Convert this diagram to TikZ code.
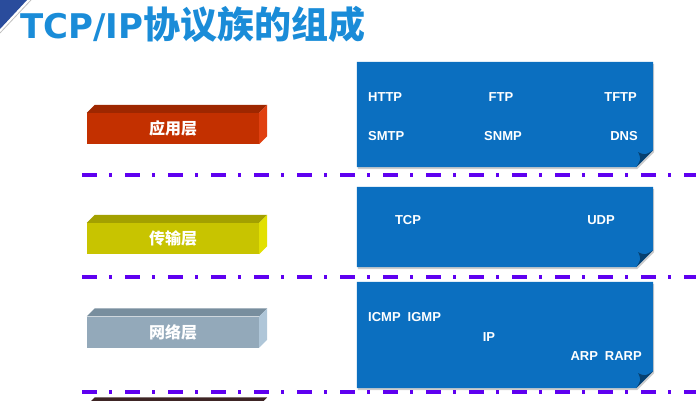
\documentclass[tikz,border=0pt]{standalone}
\usepackage{fontspec}
\setmainfont{Liberation Sans}
\newfontfamily\cjk{Noto Sans CJK SC}
\newfontfamily\titlelatin{DejaVu Sans}
\usetikzlibrary{positioning}

\definecolor{titleblue}{HTML}{1A8CD8}
\definecolor{protoblue}{HTML}{0B6FC0}
\definecolor{folddark}{HTML}{064070}
\definecolor{sepviolet}{HTML}{5F00F0}
\definecolor{appfront}{HTML}{C33000}
\definecolor{apptop}{HTML}{9E2700}
\definecolor{appside}{HTML}{E04010}
\definecolor{tranfront}{HTML}{C8C400}
\definecolor{trantop}{HTML}{A3A000}
\definecolor{transide}{HTML}{E2E000}
\definecolor{netfront}{HTML}{93A9BA}
\definecolor{nettop}{HTML}{788E9E}
\definecolor{netside}{HTML}{AFC6D8}
\definecolor{linkfront}{HTML}{4E2E2E}
\definecolor{panelblue}{HTML}{2A4C9C}

\begin{document}
\begin{tikzpicture}[
            x=1pt, y=-1pt,
            layer_style/.style={rectangle, minimum width=172pt, minimum height=31pt, inner sep=0pt, text=white, font=\cjk\bfseries\fontsize{16}{17}\selectfont},
            proto_style/.style={rectangle, minimum width=296pt, inner sep=0pt},
            label_style/.style={text=white, inner sep=0pt, font=\bfseries\fontsize{13}{14}\selectfont},
            sep_line/.style={sepviolet, line width=4pt, dash pattern=on 15pt off 12pt on 3pt off 13pt}
        ]
        \useasboundingbox (0,0) rectangle (696,400);

        % Corner decoration
        \fill[panelblue] (0,0) -- (27,0) -- (0,29) -- cycle;
        \draw[gray!50, line width=0.8pt] (31,0) -- (0,33);

        % Title
        \node (title) [anchor=west, text=titleblue, inner sep=0pt, font=\cjk\bfseries\fontsize{37}{40}\selectfont] at (20,24) {{\titlelatin\fontsize{34}{40}\selectfont TCP/IP}协议族的组成};

        % Left layers (front faces)
        \node (app) [layer_style, fill=appfront] at (173,128.5) {应用层};
        \node (tran) [layer_style, fill=tranfront] at (173,238.5) {传输层};
        \node (net) [layer_style, fill=netfront] at (173,332) {网络层};
        \node (link) [layer_style, fill=linkfront] at (173,421) {};

        % Top and side faces
        \fill[apptop] (app.north west) -- ([shift={(8,-8)}]app.north west) -- ([shift={(8,-8)}]app.north east) -- (app.north east) -- cycle;
        \fill[appside] (app.north east) -- ([shift={(8,-8)}]app.north east) -- ([shift={(8,-8)}]app.south east) -- (app.south east) -- cycle;
        \fill[trantop] (tran.north west) -- ([shift={(8,-8)}]tran.north west) -- ([shift={(8,-8)}]tran.north east) -- (tran.north east) -- cycle;
        \fill[transide] (tran.north east) -- ([shift={(8,-8)}]tran.north east) -- ([shift={(8,-8)}]tran.south east) -- (tran.south east) -- cycle;
        \fill[nettop] (net.north west) -- ([shift={(8,-8)}]net.north west) -- ([shift={(8,-8)}]net.north east) -- (net.north east) -- cycle;
        \fill[netside] (net.north east) -- ([shift={(8,-8)}]net.north east) -- ([shift={(8,-8)}]net.south east) -- (net.south east) -- cycle;
        \fill[linkfront!80!black] (link.north west) -- ([shift={(8,-8)}]link.north west) -- ([shift={(8,-8)}]link.north east) -- (link.north east) -- cycle;

        % Protocol boxes
        \node (appbox) [proto_style, minimum height=105pt] at (505,114.5) {};
        \node (tranbox) [proto_style, minimum height=80pt] at (505,227) {};
        \node (netbox) [proto_style, minimum height=106pt] at (505,335) {};

        \fill[black, opacity=0.2] ([shift={(1,2)}]appbox.north west) -- ([shift={(1,2)}]appbox.north east) -- ([shift={(1,-15)}]appbox.south east) -- ([shift={(-16,2)}]appbox.south east) -- ([shift={(1,2)}]appbox.south west) -- cycle;
        \fill[protoblue] (appbox.north west) -- (appbox.north east) -- ([shift={(0,-17)}]appbox.south east) -- ([shift={(-17,0)}]appbox.south east) -- (appbox.south west) -- cycle;
        \fill[folddark] ([shift={(0,-17)}]appbox.south east) .. controls ([shift={(-8,-12)}]appbox.south east) .. ([shift={(-15,-15)}]appbox.south east) .. controls ([shift={(-12,-8)}]appbox.south east) .. ([shift={(-17,0)}]appbox.south east) -- cycle;

        \fill[black, opacity=0.2] ([shift={(1,2)}]tranbox.north west) -- ([shift={(1,2)}]tranbox.north east) -- ([shift={(1,-15)}]tranbox.south east) -- ([shift={(-16,2)}]tranbox.south east) -- ([shift={(1,2)}]tranbox.south west) -- cycle;
        \fill[protoblue] (tranbox.north west) -- (tranbox.north east) -- ([shift={(0,-17)}]tranbox.south east) -- ([shift={(-17,0)}]tranbox.south east) -- (tranbox.south west) -- cycle;
        \fill[folddark] ([shift={(0,-17)}]tranbox.south east) .. controls ([shift={(-8,-12)}]tranbox.south east) .. ([shift={(-15,-15)}]tranbox.south east) .. controls ([shift={(-12,-8)}]tranbox.south east) .. ([shift={(-17,0)}]tranbox.south east) -- cycle;

        \fill[black, opacity=0.2] ([shift={(1,2)}]netbox.north west) -- ([shift={(1,2)}]netbox.north east) -- ([shift={(1,-15)}]netbox.south east) -- ([shift={(-16,2)}]netbox.south east) -- ([shift={(1,2)}]netbox.south west) -- cycle;
        \fill[protoblue] (netbox.north west) -- (netbox.north east) -- ([shift={(0,-17)}]netbox.south east) -- ([shift={(-17,0)}]netbox.south east) -- (netbox.south west) -- cycle;
        \fill[folddark] ([shift={(0,-17)}]netbox.south east) .. controls ([shift={(-8,-12)}]netbox.south east) .. ([shift={(-15,-15)}]netbox.south east) .. controls ([shift={(-12,-8)}]netbox.south east) .. ([shift={(-17,0)}]netbox.south east) -- cycle;

        % Protocol names
        \node (http) [label_style, anchor=west] at (368,97) {HTTP};
        \node (ftp) [label_style] at (501,97) {FTP};
        \node (tftp) [label_style, anchor=east] at (637,97) {TFTP};
        \node (smtp) [label_style, anchor=west] at (368,136) {SMTP};
        \node (snmp) [label_style] at (503,136) {SNMP};
        \node (dns) [label_style, anchor=east] at (638,136) {DNS};
        \node (tcp) [label_style] at (408,220) {TCP};
        \node (udp) [label_style] at (601,220) {UDP};
        \node (icmp) [label_style, anchor=west] at (368,317) {ICMP\hspace{7pt}IGMP};
        \node (ip) [label_style] at (489,337) {IP};
        \node (arp) [label_style, anchor=east] at (642,356) {ARP\hspace{7pt}RARP};

        % Layer separators
        \draw[sep_line] (82,175) -- (696,175);
        \draw[sep_line] (82,277) -- (696,277);
        \draw[sep_line] (82,392) -- (696,392);

    \end{tikzpicture}
\end{document}
